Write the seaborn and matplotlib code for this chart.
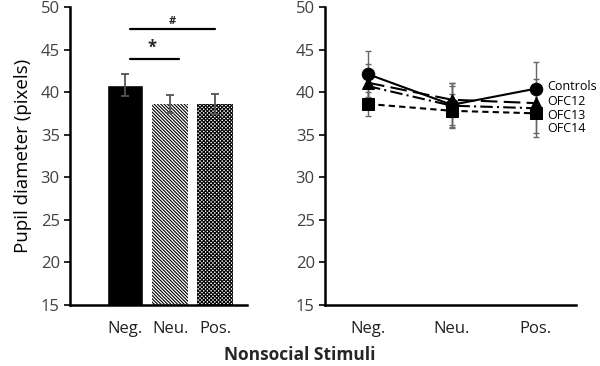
import numpy as np
import pandas as pd
import matplotlib
matplotlib.use('Agg')
import matplotlib.pyplot as plt
import seaborn as sb

conds = ['Neg.', 'Neu.', 'Pos.']

# left panel: group means and error
bar_mean = [40.8, 38.6, 38.6]
bar_err = [1.3, 1.0, 1.2]

# right panel: individual subjects
groups = ['Controls', 'OFC12', 'OFC13', 'OFC14']
controls = [42.1, 38.5, 40.4]
ofc12 = [41.1, 39.1, 38.7]
ofc13 = [38.6, 37.8, 37.5]
ofc14 = [40.7, 38.4, 38.1]
controls_err = [2.7, 2.6, 3.1]
ofc12_err = [2.2, 2.0, 1.8]
ofc13_err = [1.4, 2.0, 2.3]
ofc14_err = [2.0, 2.3, 3.4]

sb.set_style('white')
plt.rcParams['font.family'] = ['Open Sans', 'DejaVu Sans']
plt.rcParams['hatch.linewidth'] = 0.8

fig = plt.figure(figsize=(6, 3.66), dpi=100)
ax1 = fig.add_axes([0.117, 0.167, 0.295, 0.814])
ax2 = fig.add_axes([0.542, 0.167, 0.418, 0.814])

# ---- bars
df_bar = pd.DataFrame({'cond': conds, 'pupil': bar_mean})
sb.barplot(data=df_bar, x='cond', y='pupil', ax=ax1, order=conds,
           color='black', width=0.8, errorbar=None)
hatches = ['', '\\\\\\\\\\\\\\\\\\\\', 'xxxxxxxxx']
for patch, h in zip(ax1.patches, hatches):
    if h:
        patch.set_facecolor('white')
        patch.set_edgecolor('black')
        patch.set_hatch(h)
        patch.set_linewidth(0)
ax1.errorbar(conds, bar_mean, yerr=bar_err, fmt='none', ecolor='#555555',
             elinewidth=1.3, capsize=3, capthick=1.3)

# significance markers
ax1.plot([0.1, 1.2], [43.9, 43.9], color='black', lw=1.6)
ax1.text(0.6, 44.2, '*', ha='center', va='bottom', fontsize=12, fontweight='bold')
ax1.plot([0.1, 2.0], [47.4, 47.4], color='black', lw=1.6)
ax1.text(1.05, 47.7, '#', ha='center', va='bottom', fontsize=8, fontweight='bold')

ax1.set_xlim(-1.22, 2.71)
ax1.set_ylim(15, 50)
ax1.set_yticks(range(15, 51, 5))
ax1.set_ylabel('Pupil diameter (pixels)', fontsize=13.5, color='black', labelpad=6)
ax1.set_xlabel('')

# ---- lines
series = {'Controls': controls, 'OFC12': ofc12, 'OFC13': ofc13, 'OFC14': ofc14}
errs = {'Controls': controls_err, 'OFC12': ofc12_err, 'OFC13': ofc13_err, 'OFC14': ofc14_err}
styles = {
    'Controls': dict(marker='o', linestyle='-', markersize=9),
    'OFC12': dict(marker='^', dashes=(8, 3), markersize=9),
    'OFC13': dict(marker='s', dashes=(3, 2), markersize=9),
    'OFC14': dict(marker='+', dashes=(6, 2, 1, 2), markersize=5),
}

for g in groups:
    ax2.errorbar(conds, series[g], yerr=errs[g], fmt='none', ecolor='#666666',
                 elinewidth=1.0, capsize=2.5, capthick=1.0, zorder=1)

for g in groups:
    d = pd.DataFrame({'cond': conds, 'pupil': series[g]})
    sb.lineplot(data=d, x='cond', y='pupil', sort=False, ax=ax2, color='black',
                linewidth=1.5, markeredgecolor='black', zorder=3, **styles[g])

label_y = [40.6, 38.9, 37.3, 35.7]
for g, yy in zip(groups, label_y):
    ax2.text(2.14, yy, g, fontsize=9, va='center', ha='left', color='black')

ax2.set_xlim(-0.51, 2.48)
ax2.set_ylim(15, 50)
ax2.set_yticks(range(15, 51, 5))
ax2.set_xlabel('')
ax2.set_ylabel('')

for ax in (ax1, ax2):
    sb.despine(ax=ax)
    ax.spines['left'].set_linewidth(1.8)
    ax.spines['bottom'].set_linewidth(1.8)
    ax.spines['left'].set_color('black')
    ax.spines['bottom'].set_color('black')
    ax.tick_params(axis='y', which='both', left=True, length=4, width=1.2,
                   labelsize=12, labelcolor='#404040', color='black')
    ax.tick_params(axis='x', bottom=False, labelsize=12, labelcolor='#202020', pad=8)

fig.text(0.5, 0.03, 'Nonsocial Stimuli', ha='center', va='center',
         fontsize=12.5, fontweight='bold')

fig.savefig('out.png', dpi=100)
